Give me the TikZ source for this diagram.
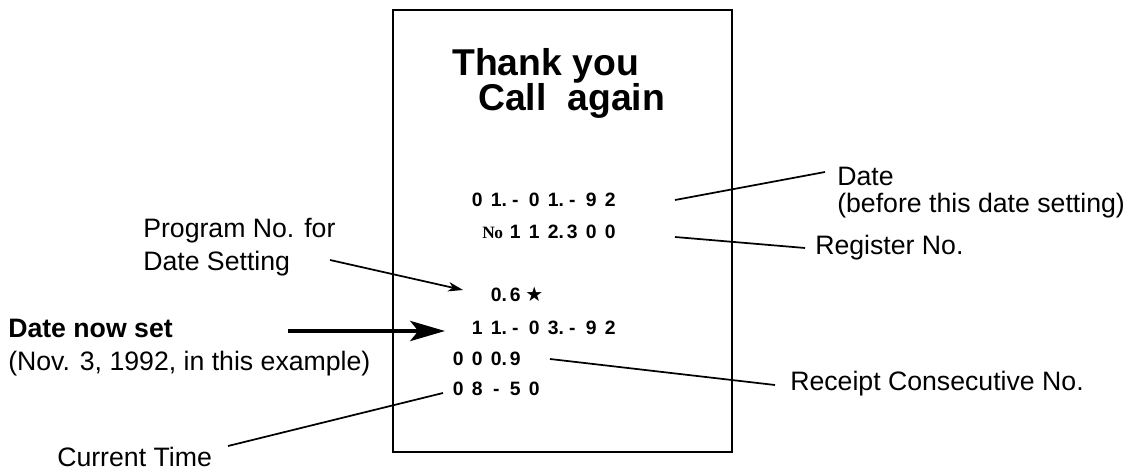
\documentclass[tikz,border=0pt]{standalone}
\usepackage{fontspec}
\setmainfont{Liberation Sans}
\newfontfamily\serifno{Liberation Serif}
\newfontfamily\symfont{DejaVu Sans}
\usetikzlibrary{arrows.meta}
\newcommand\dg[1]{\makebox[14.25pt]{#1}}
\newcommand\dd[1]{\makebox[14.25pt]{#1\rlap{.}}}
\begin{document}
\begin{tikzpicture}[x=0.75pt,y=-0.75pt,
  lab/.style={font=\fontsize{20}{24}\selectfont, inner sep=0pt, anchor=base west, align=left},
  ttl/.style={font=\fontsize{28}{30}\selectfont\bfseries, inner sep=0pt, anchor=west},
  rc/.style={font=\fontsize{14.5}{14.5}\selectfont\bfseries, inner sep=0pt, anchor=west},
  conn/.style={line width=1.3pt},
  slipbox/.style={draw, line width=1.5pt, inner sep=0pt, minimum width=254.25pt, minimum height=331.5pt}]
\useasboundingbox (0,0) rectangle (1138,470);
% receipt slip
\node[slipbox] (slip) at (562.5,231) {};
\node[ttl] (t1) at (452,66) {Thank you};
\node[ttl] (t2) at (478,101) {Call\ \ again};
\node[rc] (r1) at (467.5,200) {\dg{0}\dd{1}\dg{-}\dg{0}\dd{1}\dg{-}\dg{9}\dg{2}};
\node[rc] (r2) at (467.5,232) {\makebox[28.5pt][r]{\serifno\bfseries\fontsize{13}{13}\selectfont N\kern-0.3pt o\hspace{2pt}}\dg{1}\dg{1}\dd{2}\dg{3}\dg{0}\dg{0}};
\node[rc] (r3) at (486.5,294) {\dd{0}\dg{6}\dg{\symfont\fontsize{15}{15}\selectfont ★}};
\node[rc] (r4) at (467.5,328) {\dg{1}\dd{1}\dg{-}\dg{0}\dd{3}\dg{-}\dg{9}\dg{2}};
\node[rc] (r5) at (448.5,359) {\dg{0}\dg{0}\dd{0}\dg{9}};
\node[rc] (r6) at (448.5,389) {\dg{0}\dg{8}\dg{-}\dg{5}\dg{0}};
% right labels (base anchor = baseline of the last line)
\node[lab, font=\fontsize{20}{20.25}\selectfont] (ldate) at (837,212.5) {Date\\(before this date setting)};
\node[lab] (lreg) at (815,254) {Register No.};
\node[lab] (lrcpt) at (790,390) {Receipt Consecutive No.};
% left labels
\node[lab, font=\fontsize{20}{24.75}\selectfont] (lprog) at (143,270.5) {Program No. for\\Date Setting};
\node[lab, font=\fontsize{20}{24.75}\selectfont] (lnow) at (8,370) {\textbf{Date now set}\\(Nov. 3, 1992, in this example)};
\node[lab] (ltime) at (57,466) {Current Time};
% connectors
\coordinate (d1) at (675,200); \coordinate (d2) at (825,172);
\coordinate (g1) at (675,237); \coordinate (g2) at (805,248);
\coordinate (c1) at (550,359); \coordinate (c2) at (775,385);
\coordinate (m1) at (228,446); \coordinate (m2) at (443,393);
\coordinate (p1) at (330,260); \coordinate (p2) at (463,290);
\coordinate (n1) at (288,331); \coordinate (n2) at (445,331);
\draw[conn] (d1) -- (d2);
\draw[conn] (g1) -- (g2);
\draw[conn] (c1) -- (c2);
\draw[conn] (m1) -- (m2);
\draw[conn, -{Stealth[length=11pt, width=7pt, inset=3pt]}] (p1) -- (p2);
\draw[line width=3.5pt, -{Stealth[length=26pt, width=15pt, inset=6pt]}] (n1) -- (n2);
\end{tikzpicture}
\end{document}
